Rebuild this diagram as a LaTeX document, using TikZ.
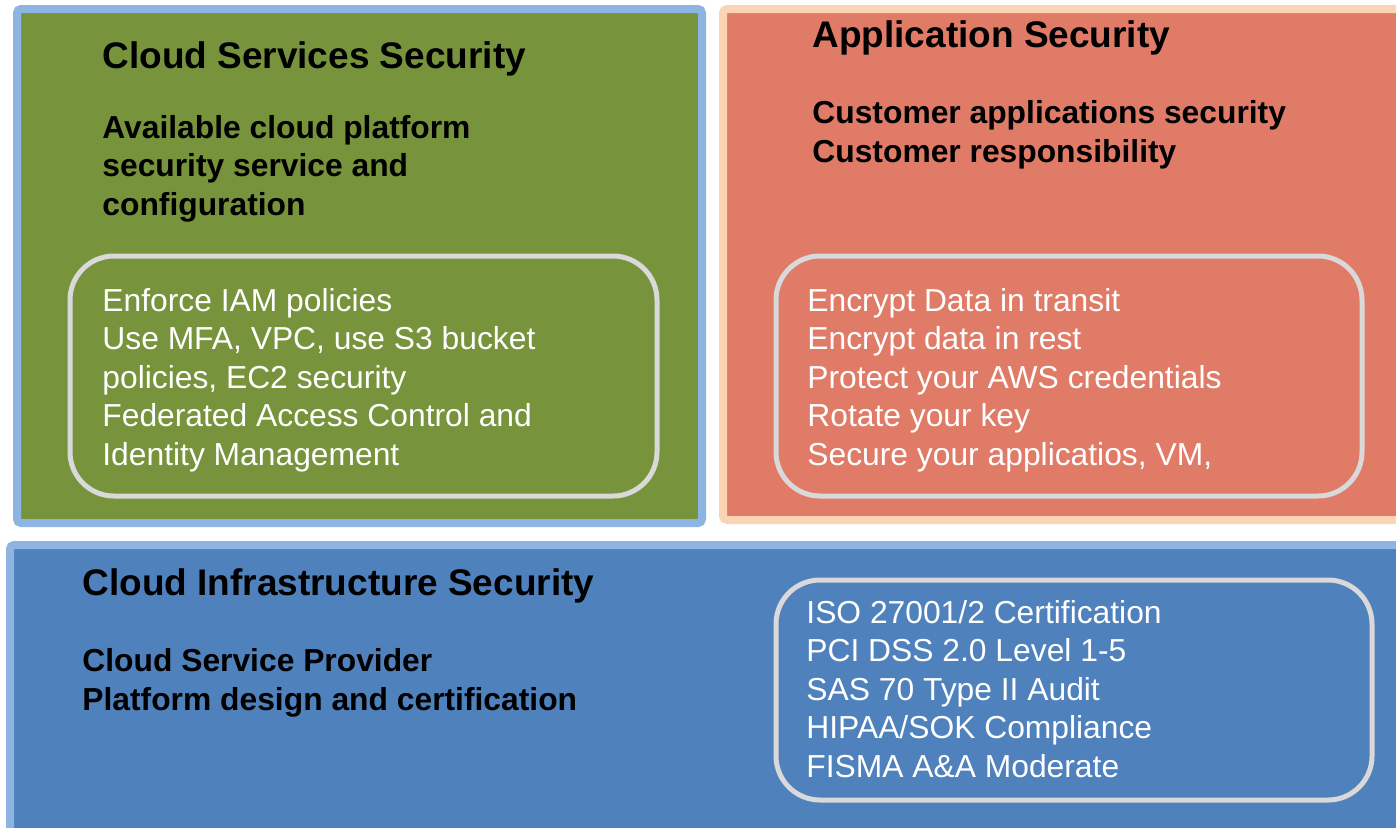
\documentclass[tikz,border=0pt]{standalone}
\usepackage{fontspec}
\setmainfont{Liberation Sans}
\usepackage{tikz}
\usetikzlibrary{positioning}
\definecolor{verde}{HTML}{77933C}
\definecolor{rosso}{HTML}{E07B68}
\definecolor{pesca}{HTML}{FBD4B4}
\definecolor{blu}{HTML}{4F81BD}
\definecolor{azzurro}{HTML}{8EB4E3}
\definecolor{grigio}{HTML}{D9D9D9}

\begin{document}
\begin{tikzpicture}[x=0.5pt, y=-0.5pt,
    titolo/.style={anchor=base west, inner sep=0pt, font=\fontsize{18.5}{22}\selectfont\bfseries},
    testo/.style={anchor=base west, inner sep=0pt, align=left, font=\fontsize{15.9}{19.2}\selectfont\bfseries},
    lista/.style={anchor=base west, inner sep=0pt, align=left, text=white, font=\fontsize{15.9}{19.2}\selectfont},
    riquadro/.style={draw=grigio, line width=2.5pt, rounded corners=22pt}]
      \useasboundingbox (0,0) rectangle (1396,827);

      % Blocchi esterni
      \draw[fill=verde, draw=azzurro, line width=4pt, rounded corners=2pt] (17,9) rectangle (702,523);
      \draw[fill=rosso, draw=pesca, line width=4pt, rounded corners=2pt] (723,9) rectangle (1420,520);
      \draw[fill=blu, draw=azzurro, line width=4pt, rounded corners=2pt] (10,545) rectangle (1420,840);

      % Riquadri interni
      \node (G) [riquadro, minimum width=293.5pt, minimum height=120pt] at (363.5,376) {};
      \node (R) [riquadro, minimum width=293pt, minimum height=120pt] at (1069,376) {};
      \node (B) [riquadro, minimum width=298pt, minimum height=110pt] at (1074,690) {};

      % Cloud Services Security (testi ancorati all'ultima riga)
      \node (G1) [titolo] at (102,68) {Cloud Services Security};
      \node (G2) [testo] at (102,215) {Available cloud platform\\security service and\\configuration};
      \node (G3) [lista] at (102,465) {Enforce IAM policies\\Use MFA, VPC, use S3 bucket\\policies, EC2 security\\Federated Access Control and\\Identity Management};

      % Application Security
      \node (R1) [titolo] at (812,47) {Application Security};
      \node (R2) [testo] at (812,162) {Customer applications security\\Customer responsibility};
      \node (R3) [lista] at (807,465) {Encrypt Data in transit\\Encrypt data in rest\\Protect your AWS credentials\\Rotate your key\\Secure your applicatios, VM,};

      % Cloud Infrastructure Security
      \node (B1) [titolo] at (82,595) {Cloud Infrastructure Security};
      \node (B2) [testo] at (82,710) {Cloud Service Provider\\Platform design and certification};
      \node (B3) [lista] at (806,777) {ISO 27001/2 Certification\\PCI DSS 2.0 Level 1-5\\SAS 70 Type II Audit\\HIPAA/SOK Compliance\\FISMA A\&A Moderate};
    \end{tikzpicture}
\end{document}
